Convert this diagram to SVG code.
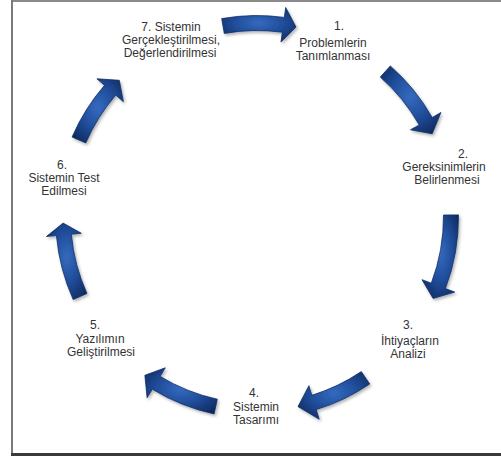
<svg xmlns="http://www.w3.org/2000/svg" width="501" height="457" viewBox="0 0 501 457">
<style>
.lbl{font-family:"Liberation Sans",Arial,sans-serif;font-size:12px;fill:#333;text-anchor:middle}
.arr{fill:url(#blue);stroke:#122f68;stroke-width:0.8;filter:url(#sh)}
</style>
<defs>
<radialGradient id="blue" cx="50%" cy="45%" r="65%">
<stop offset="0" stop-color="#356abf"/>
<stop offset="0.55" stop-color="#1f4b97"/>
<stop offset="1" stop-color="#0f2a5e"/>
</radialGradient>
<filter id="sh" x="-20%" y="-20%" width="150%" height="150%">
<feDropShadow dx="1.5" dy="2" stdDeviation="1.5" flood-color="#000" flood-opacity="0.3"/>
</filter>
</defs>
<rect x="0" y="0" width="501" height="457" fill="#fff"/>
<g id="frame">
<line x1="12" y1="1" x2="501" y2="1" stroke="#8a8a8a" stroke-width="2"/>
<line x1="12" y1="0" x2="12" y2="456" stroke="#7a7a7a" stroke-width="2"/>
<line x1="11" y1="454.5" x2="501" y2="454.5" stroke="#3a3a3a" stroke-width="3"/>
</g>
<g id="connectors">
<path class="arr" d="M224.3,33.4 L221.7,18.6 A201.5,201.5 0 0 1 284.3,17.4 L285.7,7.5 L296.0,27.0 L281.0,42.1 L282.3,32.2 A186.5,186.5 0 0 0 224.3,33.4 Z"/>
<path class="arr" d="M380.3,77.1 L390.3,65.9 A201.5,201.5 0 0 1 432.2,117.5 L440.9,112.5 L432.2,133.8 L410.5,129.8 L419.2,124.9 A186.5,186.5 0 0 0 380.3,77.1 Z"/>
<path class="arr" d="M443.5,215.0 L458.5,214.9 A201.5,201.5 0 0 1 445.4,288.6 L454.7,292.1 L433.1,298.4 L422.0,279.7 L431.3,283.2 A186.5,186.5 0 0 0 443.5,215.0 Z"/>
<path class="arr" d="M361.3,371.6 L369.7,384.0 A201.5,201.5 0 0 1 316.2,409.6 L319.2,419.2 L298.0,406.6 L308.9,385.7 L311.8,395.3 A186.5,186.5 0 0 0 361.3,371.6 Z"/>
<path class="arr" d="M217.3,399.2 L214.1,413.9 A201.5,201.5 0 0 1 152.3,389.2 L147.1,397.7 L144.9,375.3 L165.3,367.8 L160.1,376.4 A186.5,186.5 0 0 0 217.3,399.2 Z"/>
<path class="arr" d="M86.9,293.4 L73.2,299.6 A201.5,201.5 0 0 1 56.4,235.6 L46.4,236.5 L63.1,223.1 L81.3,233.3 L71.3,234.2 A186.5,186.5 0 0 0 86.9,293.4 Z"/>
<path class="arr" d="M85.8,142.9 L72.1,137.0 A201.5,201.5 0 0 1 104.5,85.3 L96.9,78.8 L119.3,80.3 L123.4,101.7 L115.8,95.1 A186.5,186.5 0 0 0 85.8,142.9 Z"/>
</g>
<g id="node1"><text class="lbl" x="339" y="30">1.</text><text class="lbl" x="333" y="47">Problemlerin</text><text class="lbl" x="333" y="60">Tanımlanması</text></g>
<g id="node2"><text class="lbl" x="463" y="158">2.</text><text class="lbl" x="444" y="171">Gereksinimlerin</text><text class="lbl" x="447" y="184">Belirlenmesi</text></g>
<g id="node3"><text class="lbl" x="408" y="329">3.</text><text class="lbl" x="410" y="345">İhtiyaçların</text><text class="lbl" x="408" y="358">Analizi</text></g>
<g id="node4"><text class="lbl" x="254" y="397">4.</text><text class="lbl" x="256" y="411">Sistemin</text><text class="lbl" x="256" y="424">Tasarımı</text></g>
<g id="node5"><text class="lbl" x="95" y="329">5.</text><text class="lbl" x="100" y="343">Yazılımın</text><text class="lbl" x="101" y="356">Geliştirilmesi</text></g>
<g id="node6"><text class="lbl" x="62" y="169">6.</text><text class="lbl" x="64" y="182">Sistemin Test</text><text class="lbl" x="64" y="195">Edilmesi</text></g>
<g id="node7"><text class="lbl" x="171" y="31">7. Sistemin</text><text class="lbl" x="171" y="44">Gerçekleştirilmesi,</text><text class="lbl" x="170" y="57">Değerlendirilmesi</text></g>
</svg>
